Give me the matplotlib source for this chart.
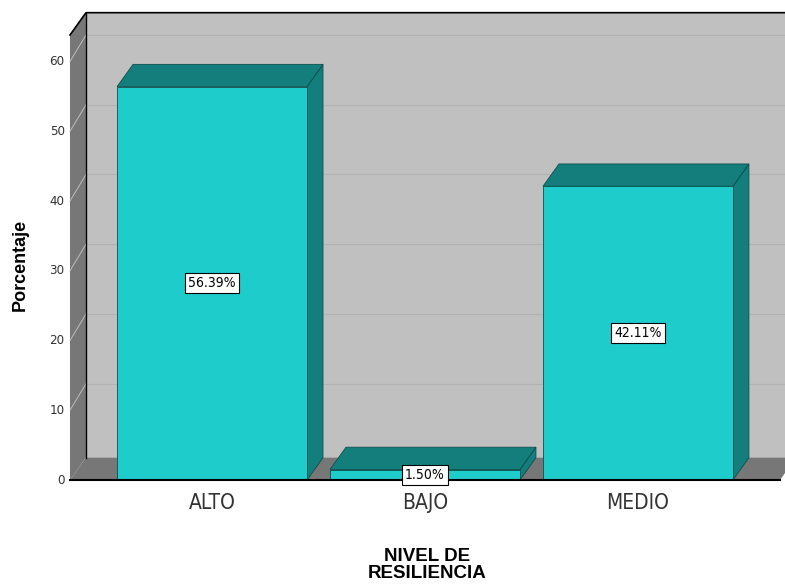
import matplotlib.pyplot as plt
from matplotlib.patches import Polygon

categories = ['ALTO', 'BAJO', 'MEDIO']
percentages = [56.39, 1.50, 42.11]
y_ticks = [0, 10, 20, 30, 40, 50, 60]

narrow = ['DejaVu Sans']
bold = ['Liberation Sans', 'DejaVu Sans']

front = '#1fcccc'
shade = '#137e7b'
wall = '#c0c0c0'
dark = '#777777'

fig = plt.figure(figsize=(7.85, 5.84), dpi=100)
ax = fig.add_axes([70 / 785, 104 / 584, 710 / 785, 445 / 584])

xmin, xmax = -0.667, 2.667
ymin, ymax = 0, 63.8
ddx, ddy = 0.075, 3.2   # depth offset of the 3D look
grid_up = 0.6           # grid lines sit a bit higher on the back wall
bw = 0.892

ax.set_xlim(xmin, xmax)
ax.set_ylim(ymin, ymax)
ax.axis('off')


def poly(pts, fc, ec='none', lw=0.8, z=1):
    ax.add_patch(Polygon(pts, closed=True, facecolor=fc, edgecolor=ec,
                         linewidth=lw, clip_on=False, zorder=z))


# back wall
poly([(xmin + ddx, ddy), (xmax + ddx, ddy), (xmax + ddx, ymax + ddy),
      (xmin + ddx, ymax + ddy)], wall, z=1)
for v in y_ticks[1:]:
    ax.plot([xmin + ddx, xmax + ddx], [v + ddy + grid_up] * 2,
            color='#b2b2b2', lw=0.9, clip_on=False, zorder=1.5)
# left side wall
poly([(xmin, 0), (xmin, ymax), (xmin + ddx, ymax + ddy), (xmin + ddx, ddy)],
     dark, z=2)
for v in y_ticks[1:]:
    ax.plot([xmin, xmin + ddx], [v, v + ddy + grid_up], color='#bdbdbd',
            lw=0.7, clip_on=False, zorder=2.5)
# floor
poly([(xmin, 0), (xmax, 0), (xmax + ddx, ddy), (xmin + ddx, ddy)], dark, z=2)

# outline of the box
ax.plot([xmin, xmin + ddx, xmax + ddx], [ymax, ymax + ddy, ymax + ddy],
        color='black', lw=1.2, clip_on=False, zorder=3)
ax.plot([xmin + ddx, xmin + ddx], [ddy, ymax + ddy], color='black', lw=1,
        clip_on=False, zorder=3)
ax.plot([xmin, xmax], [0, 0], color='black', lw=1.5, clip_on=False, zorder=8)

# bars
for i, (cat, val) in enumerate(zip(categories, percentages)):
    x0, x1 = i - bw / 2, i + bw / 2
    poly([(x1, 0), (x1 + ddx, ddy), (x1 + ddx, val + ddy), (x1, val)],
         shade, ec='#0b4f4d', lw=0.6, z=4)
    poly([(x0, val), (x1, val), (x1 + ddx, val + ddy), (x0 + ddx, val + ddy)],
         shade, ec='#0b4f4d', lw=0.6, z=4)
    poly([(x0, 0), (x1, 0), (x1, val), (x0, val)], front, ec='#0b4f4d',
         lw=0.6, z=5)
    ax.text(i, val / 2, f'{val:.2f}%', ha='center', va='center', fontsize=10,
            family=narrow, fontstretch='condensed', zorder=9,
            bbox=dict(boxstyle='square,pad=0.22', fc='white', ec='black',
                      lw=0.8))
    ax.text(i, -1.8, cat, ha='center', va='top', fontsize=15, family=narrow,
            fontstretch='condensed', color='#333333')

for v in y_ticks:
    ax.text(xmin - 0.025, v, str(v), ha='right', va='center', fontsize=9.5,
            family=narrow, fontstretch='condensed', color='#333333')

fig.text(20 / 785, 1 - 265 / 584, 'Porcentaje', rotation=90, ha='center',
         va='center', fontsize=13, fontweight='bold', family=bold)
fig.text(427 / 785, 1 - 565 / 584, 'NIVEL DE\nRESILIENCIA', ha='center',
         va='center', fontsize=13.5, fontweight='bold', family=bold,
         linespacing=1.05)

fig.savefig('out.png', dpi=100)
